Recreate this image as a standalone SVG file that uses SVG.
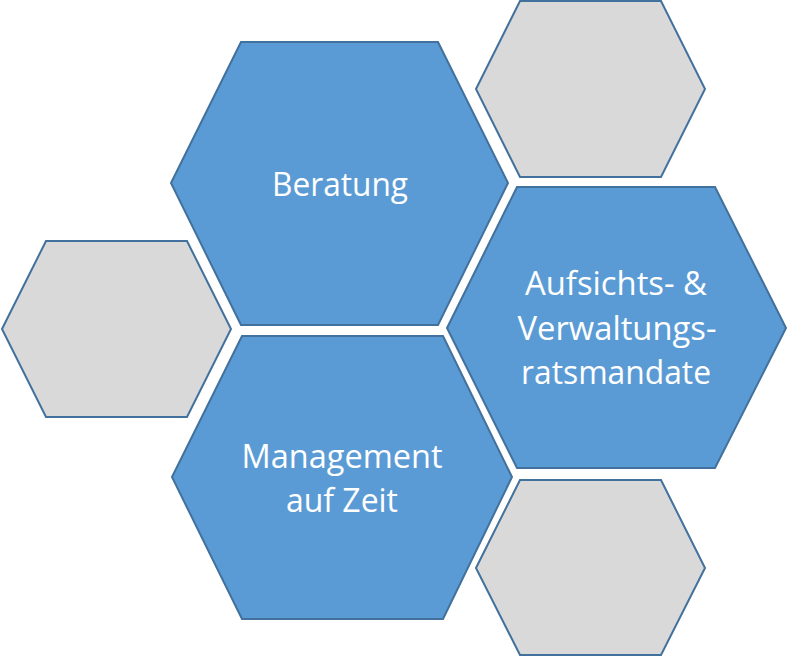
<svg xmlns="http://www.w3.org/2000/svg" width="787" height="657" viewBox="0 0 787 657">
<style>
.blue{fill:#5B9BD5;stroke:#41719C;stroke-width:2;stroke-linejoin:miter}
.gray{fill:#D9D9D9;stroke:#41719C;stroke-width:2;stroke-linejoin:miter}
.lbl{font-family:"Open Sans","Noto Sans","Liberation Sans",sans-serif;font-size:33.5px;fill:#FFFFFF;text-anchor:middle}
</style>
<rect width="787" height="657" fill="#FFFFFF"/>
<g id="hex-gray-top">
<polygon class="gray" points="476,89 520,1 661,1 705,89 661,177 520,177"/>
</g>
<g id="hex-gray-left">
<polygon class="gray" points="2,329 46,241 187,241 231,329 187,417 46,417"/>
</g>
<g id="hex-gray-bottom">
<polygon class="gray" points="476,568 520,480 661,480 705,568 661,655 520,655"/>
</g>
<g id="hex-beratung">
<polygon class="blue" points="171,183 241,42 438,42 508,183 438,325 241,325"/>
<text class="lbl" x="340" y="196" textLength="136" lengthAdjust="spacingAndGlyphs">Beratung</text>
</g>
<g id="hex-aufsicht">
<polygon class="blue" points="447,328 517,187 715,187 786,328 715,468 517,468"/>
<text class="lbl" x="616" y="295" textLength="182" lengthAdjust="spacingAndGlyphs">Aufsichts- &amp;</text>
<text class="lbl" x="617" y="340" textLength="199" lengthAdjust="spacingAndGlyphs">Verwaltungs-</text>
<text class="lbl" x="616" y="384" textLength="190" lengthAdjust="spacingAndGlyphs">ratsmandate</text>
</g>
<g id="hex-management">
<polygon class="blue" points="172,477 242,336 443,336 512,477 443,619 242,619"/>
<text class="lbl" x="342" y="468" textLength="201" lengthAdjust="spacingAndGlyphs">Management</text>
<text class="lbl" x="342" y="512" textLength="112" lengthAdjust="spacingAndGlyphs">auf Zeit</text>
</g>
<g id="connectors"></g>
</svg>
